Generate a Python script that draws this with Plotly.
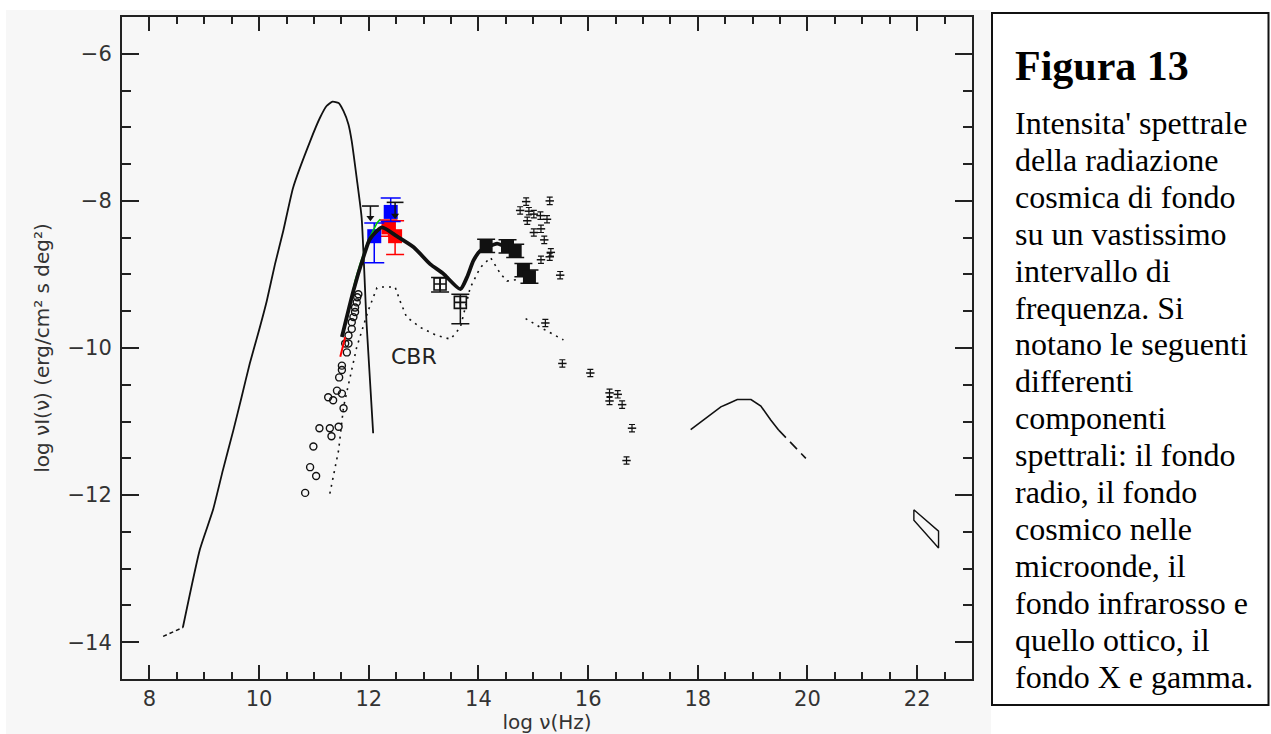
import plotly.graph_objects as go

# ---------------- data ----------------
# microwave/radio blackbody-like curve (solid)
cmb_x = [8.61, 8.92, 9.16, 9.34, 9.53, 9.68, 9.83, 9.98, 10.14, 10.29, 10.44, 10.62,
         10.93, 11.11, 11.23, 11.34, 11.45, 11.54, 11.63, 11.69, 11.78, 11.87, 11.96, 12.08]
cmb_y = [-13.80, -12.74, -12.20, -11.66, -11.12, -10.67, -10.21, -9.81, -9.36, -8.86, -8.41, -7.82,
         -7.19, -6.87, -6.71, -6.65, -6.67, -6.78, -6.96, -7.19, -7.69, -8.23, -9.67, -11.16]
# short dashed low-frequency tail
tail_x = [8.25, 8.61]
tail_y = [-13.92, -13.80]

# dotted model curve (IR part and optical part)
dot_ir_x = [11.29, 11.45, 11.54, 11.78, 11.99, 12.15, 12.21, 12.48, 12.57, 12.69, 12.94,
            13.24, 13.49, 13.67, 13.85, 14.03, 14.22, 14.40, 14.52, 14.70]
dot_ir_y = [-11.98, -11.39, -10.80, -9.99, -9.49, -9.18, -9.17, -9.17, -9.36, -9.58, -9.72,
            -9.83, -9.88, -9.72, -9.18, -8.91, -8.77, -8.99, -9.09, -9.07]
dot_opt_x = [14.86, 15.13, 15.55]
dot_opt_y = [-9.60, -9.72, -9.89]

# thick black fit curve
fit_x = [11.51, 11.72, 11.90, 12.02, 12.24, 12.51, 12.82, 13.12, 13.36, 13.67,
         13.79, 13.91, 14.03, 14.16, 14.34, 14.46, 14.60]
fit_y = [-9.85, -9.22, -8.77, -8.52, -8.36, -8.48, -8.63, -8.86, -8.99, -9.20,
         -9.04, -8.81, -8.68, -8.63, -8.58, -8.61, -8.63]

# green and red thin curves
green_x = [11.51, 11.66, 11.75, 11.84, 11.99, 12.15, 12.21]
green_y = [-9.83, -9.40, -9.09, -8.86, -8.54, -8.30, -8.25]
redl_x = [11.48, 11.52, 11.57]
redl_y = [-10.12, -9.98, -9.85]

# radio data (open circles)
circ_x = [10.84, 10.93, 11.04, 10.99, 11.10, 11.29, 11.32, 11.45, 11.54, 11.26, 11.35, 11.42,
          11.51, 11.46, 11.51, 11.51, 11.60, 11.57, 11.63, 11.63, 11.69, 11.69, 11.72, 11.75,
          11.75, 11.78, 11.79, 11.81]
circ_y = [-11.97, -11.62, -11.74, -11.34, -11.09, -11.09, -11.20, -11.07, -10.82, -10.67, -10.71, -10.58,
          -10.62, -10.40, -10.30, -10.24, -10.06, -9.94, -9.94, -9.83, -9.74, -9.65, -9.58, -9.51,
          -9.45, -9.38, -9.31, -9.27]

# blue and red squares with error bars
blue_x = [12.10, 12.40]
blue_y = [-8.48, -8.15]
blue_ep = [0.18, 0.19]
blue_em = [0.36, 0.13]
reds_x = [12.36, 12.48]
reds_y = [-8.36, -8.48]
reds_ep = [0.10, 0.21]
reds_em = [0.12, 0.25]

# upper-limit arrows
ul_x = [12.03, 12.48]
ul_top = [-8.07, -8.02]
ul_tip = [-8.23, -8.20]

# DIRBE-like points: open (crossed) and filled squares
hol_x = [13.30, 13.67]
hol_y = [-9.13, -9.38]
hol_ep = [0.09, 0.11]
hol_em = [0.11, 0.29]
fil_x = [14.14, 14.53, 14.67, 14.82, 14.93]
fil_y = [-8.61, -8.62, -8.68, -8.94, -9.03]
fil_e = [0.09, 0.09, 0.09, 0.09, 0.09]

# small optical/UV limits
sl_x = [14.87, 15.30, 14.76, 14.92, 15.01, 15.13, 15.25, 14.89, 15.01, 15.14, 15.20, 15.32,
        15.30, 15.14, 15.49, 15.22, 15.53, 16.04, 16.39, 16.54, 16.39, 16.62, 16.80, 16.70]
sl_y = [-8.01, -8.00, -8.13, -8.14, -8.18, -8.20, -8.25, -8.27, -8.43, -8.38, -8.53, -8.70,
        -8.76, -8.80, -9.01, -9.66, -10.21, -10.34, -10.61, -10.63, -10.72, -10.77, -11.09, -11.53]

# X-ray background
xr_x = [17.87, 18.42, 18.54, 18.72, 18.97, 19.15, 19.33, 19.48]
xr_y = [-11.11, -10.80, -10.76, -10.70, -10.70, -10.79, -10.98, -11.12]
xrd_x = [19.48, 19.97]
xrd_y = [-11.12, -11.50]

# gamma-ray box
gm_x = [21.94, 22.39, 22.39, 21.94, 21.94]
gm_y = [-12.20, -12.49, -12.72, -12.34, -12.20]

x_ticks = [8, 10, 12, 14, 16, 18, 20, 22]
y_ticks = [-14, -12, -10, -8, -6]

caption_title = "Figura 13"
caption_lines = ["Intensita' spettrale", "della radiazione", "cosmica di fondo",
                 "su un vastissimo", "intervallo di", "frequenza. Si",
                 "notano le seguenti", "differenti", "componenti",
                 "spettrali: il fondo", "radio, il fondo", "cosmico nelle",
                 "microonde, il", "fondo infrarosso e", "quello ottico, il",
                 "fondo X e gamma."]

# ---------------- figure ----------------
W, H = 1271, 734
ML, MR, MT, MB = 122, 299, 17, 55
PW, PH = W - ML - MR, H - MT - MB


def px(xp):
    return (xp - ML) / PW


def py(yp):
    return (H - MB - yp) / PH


K = "#111111"
fig = go.Figure()

fig.add_trace(go.Scatter(x=tail_x, y=tail_y, mode="lines",
                         line=dict(color=K, width=1.5, dash="4px,3px")))
fig.add_trace(go.Scatter(x=cmb_x, y=cmb_y, mode="lines",
                         line=dict(color=K, width=1.8, shape="spline", smoothing=0.5)))
for xs, ys in [(dot_ir_x, dot_ir_y), (dot_opt_x, dot_opt_y)]:
    fig.add_trace(go.Scatter(x=xs, y=ys, mode="lines",
                             line=dict(color=K, width=1.6, dash="2px,5px")))

fig.add_trace(go.Scatter(x=circ_x, y=circ_y, mode="markers",
                         marker=dict(symbol="circle-open", size=7, color=K, line=dict(width=1.4))))

fig.add_trace(go.Scatter(x=reds_x, y=reds_y, mode="markers",
                         marker=dict(symbol="square", size=14, color="#ff0000"),
                         error_y=dict(type="data", symmetric=False, array=reds_ep, arrayminus=reds_em,
                                      color="#ff0000", thickness=1.5, width=9)))
fig.add_trace(go.Scatter(x=blue_x, y=blue_y, mode="markers",
                         marker=dict(symbol="square", size=14, color="#0000ff"),
                         error_y=dict(type="data", symmetric=False, array=blue_ep, arrayminus=blue_em,
                                      color="#0000ff", thickness=1.5, width=10)))

fig.add_trace(go.Scatter(x=green_x, y=green_y, mode="lines", line=dict(color="#00cc00", width=1.6)))
fig.add_trace(go.Scatter(x=redl_x, y=redl_y, mode="lines", line=dict(color="#ff0000", width=2)))
fig.add_trace(go.Scatter(x=fit_x, y=fit_y, mode="lines",
                         line=dict(color=K, width=3.8, shape="spline", smoothing=0.6)))

# upper limit arrows: bar + stem + head
ul_len = [t - b for t, b in zip(ul_top, ul_tip)]
fig.add_trace(go.Scatter(x=ul_x, y=ul_top, mode="markers",
                         marker=dict(symbol="line-ew", size=12, line=dict(color=K, width=1.6)),
                         error_y=dict(type="data", symmetric=False, array=[0] * len(ul_x),
                                      arrayminus=ul_len, color=K, thickness=1.5, width=0)))
fig.add_trace(go.Scatter(x=ul_x, y=ul_tip, mode="markers",
                         marker=dict(symbol="triangle-down", size=7, color=K)))

fig.add_trace(go.Scatter(x=hol_x, y=hol_y, mode="markers",
                         marker=dict(symbol="square-cross-open", size=12, color=K, line=dict(width=1.6)),
                         error_y=dict(type="data", symmetric=False, array=hol_ep, arrayminus=hol_em,
                                      color=K, thickness=1.5, width=9)))
fig.add_trace(go.Scatter(x=fil_x, y=fil_y, mode="markers",
                         marker=dict(symbol="square", size=13, color=K),
                         error_y=dict(type="data", array=fil_e, color=K, thickness=1.5, width=9)))

fig.add_trace(go.Scatter(x=sl_x, y=sl_y, mode="markers",
                         marker=dict(symbol="line-ew", size=6, line=dict(color=K, width=1.5)),
                         error_y=dict(type="data", array=[0.05] * len(sl_x), color=K,
                                      thickness=1.2, width=3)))

fig.add_trace(go.Scatter(x=xr_x, y=xr_y, mode="lines", line=dict(color=K, width=1.6)))
fig.add_trace(go.Scatter(x=xrd_x, y=xrd_y, mode="lines",
                         line=dict(color=K, width=1.6, dash="10px,6px")))
fig.add_trace(go.Scatter(x=gm_x, y=gm_y, mode="lines", line=dict(color=K, width=1.4)))

font_ax = dict(family="DejaVu Sans", size=21, color="#333333")
axis_common = dict(showline=True, linecolor="#222222", linewidth=2, mirror="allticks",
                   ticks="inside", tickcolor="#222222", tickwidth=2, showgrid=False,
                   zeroline=False, tickfont=font_ax)
fig.update_xaxes(range=[7.5, 23], tickvals=x_ticks, ticklen=14, ticklabelstandoff=0,
                 minor=dict(dtick=0.5, tick0=7.5, ticks="inside", ticklen=7, tickwidth=2,
                            tickcolor="#222222", showgrid=False),
                 title=dict(text="log ν(Hz)", font=dict(family="DejaVu Sans", size=20, color="#333333"),
                            standoff=5), **axis_common)
fig.update_yaxes(range=[-14.5, -5.5], tickvals=y_ticks, ticklen=17, ticklabelstandoff=4,
                 minor=dict(dtick=0.5, tick0=-14.5, ticks="inside", ticklen=9, tickwidth=2,
                            tickcolor="#222222", showgrid=False),
                 title=dict(text="log νI(ν) (erg/cm² s deg²)", font=dict(family="DejaVu Sans", size=20,
                                                                        color="#333333"), standoff=12),
                 **axis_common)

shapes = [
    dict(type="rect", xref="paper", yref="paper", x0=px(6), x1=px(991), y0=py(734), y1=py(10),
         fillcolor="#f7f7f7", line=dict(width=0), layer="below"),
    dict(type="rect", xref="paper", yref="paper", x0=px(992), x1=px(1268.5), y0=py(705), y1=py(13),
         fillcolor="rgba(0,0,0,0)", line=dict(color="#111111", width=2)),
]

annotations = [
    dict(x=12.82, y=-10.12, xref="x", yref="y", text="CBR", showarrow=False,
         font=dict(family="DejaVu Sans", size=22, color="#222222")),
    dict(x=px(1013), y=py(66), xref="paper", yref="paper", text="<b>" + caption_title + "</b>",
         showarrow=False, xanchor="left", yanchor="middle",
         font=dict(family="Liberation Serif", size=42, color="#000000")),
]
for i, line in enumerate(caption_lines):
    base = 133.5 + i * 36.9
    annotations.append(dict(x=px(1013), y=py(base - 10.5), xref="paper", yref="paper", text=line,
                            showarrow=False, xanchor="left", yanchor="middle",
                            font=dict(family="Liberation Serif", size=32, color="#000000")))

fig.update_layout(width=W, height=H, margin=dict(l=ML, r=MR, t=MT, b=MB, autoexpand=False),
                  paper_bgcolor="white", plot_bgcolor="rgba(0,0,0,0)", showlegend=False,
                  shapes=shapes, annotations=annotations)

fig.write_html("out.html")
